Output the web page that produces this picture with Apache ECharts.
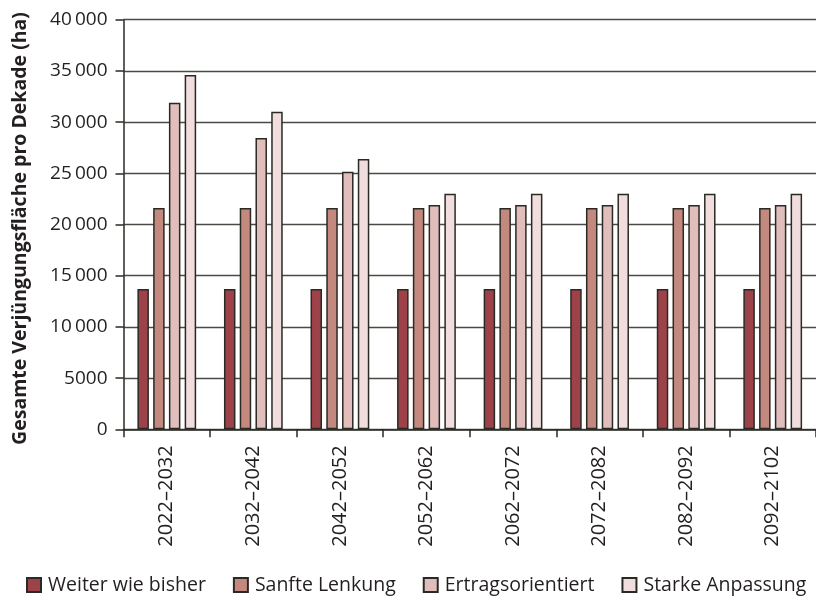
<!DOCTYPE html>
<html>
<head>
<meta charset="utf-8">
<script src="https://cdn.jsdelivr.net/npm/echarts@6/dist/echarts.min.js"></script>
<style>html,body{margin:0;padding:0;background:#fff}#c{width:816px;height:598px}</style>
</head>
<body>
<div id="c"></div>
<script>
const categories = ['2022–2032','2032–2042','2042–2052','2052–2062','2062–2072','2072–2082','2082–2092','2092–2102'];
const seriesNames = ['Weiter wie bisher','Sanfte Lenkung','Ertragsorientiert','Starke Anpassung'];
const weiterWieBisher = [13700,13700,13700,13700,13700,13700,13700,13700];
const sanfteLenkung = [21600,21600,21600,21600,21600,21600,21600,21600];
const ertragsorientiert = [31900,28450,25150,21900,21900,21900,21900,21900];
const starkeAnpassung = [34600,31000,26400,23000,23000,23000,23000,23000];
const yTickLabels = ['0','5000','10\u2009000','15\u2009000','20\u2009000','25\u2009000','30\u2009000','35\u2009000','40\u2009000'];
const colors = ['#9c4248','#c3897f','#e1bdbb','#f1dddd'];
const values = [weiterWieBisher, sanfteLenkung, ertragsorientiert, starkeAnpassung];
const FONT = 'Open Sans';

const chart = echarts.init(document.getElementById('c'));
chart.setOption({
  animation: false,
  textStyle: {fontFamily: FONT},
  grid: {left: 123.5, right: -4.5, top: 19.7, bottom: 168.7, containLabel: false},
  legend: {
    left: 26, top: 575, padding: 0, itemWidth: 14, itemHeight: 14, itemGap: 27,
    textStyle: {fontSize: 19.5, color: '#231f20', fontFamily: FONT, padding: [0,0,0,2]},
    data: seriesNames.map(n => ({name: n, icon: 'rect'}))
  },
  xAxis: {
    type: 'category', data: categories, boundaryGap: true,
    axisLine: {show: true, lineStyle: {color: '#2a2a25', width: 1.5}},
    axisTick: {show: true, length: 8, lineStyle: {color: '#2a2a25', width: 1.5}},
    axisLabel: {rotate: 90, margin: 16, fontSize: 20, color: '#231f20', fontFamily: FONT}
  },
  yAxis: {
    type: 'value', min: 0, max: 40000, interval: 5000,
    name: 'Gesamte Verjüngungsfläche pro Dekade (ha)', nameLocation: 'middle', nameGap: 93,
    nameTextStyle: {fontSize: 19.5, fontWeight: 'bold', color: '#231f20', fontFamily: FONT, padding: [0,8,0,0]},
    axisLine: {show: true, lineStyle: {color: '#2a2a25', width: 1.5}},
    axisTick: {show: true, length: 8, lineStyle: {color: '#2a2a25', width: 1.5}},
    axisLabel: {margin: 16, fontSize: 19, color: '#231f20', fontFamily: FONT,
      formatter: v => yTickLabels[Math.round(v / 5000)]},
    splitLine: {show: true, lineStyle: {color: '#4a4a45', width: 1.3}}
  },
  series: seriesNames.map((n, i) => ({
    name: n, type: 'bar', data: values[i], barWidth: 11.5, barGap: '37%',
    itemStyle: {color: colors[i], borderColor: '#2a2a25', borderWidth: 1.5}
  }))
});
</script>
</body>
</html>
